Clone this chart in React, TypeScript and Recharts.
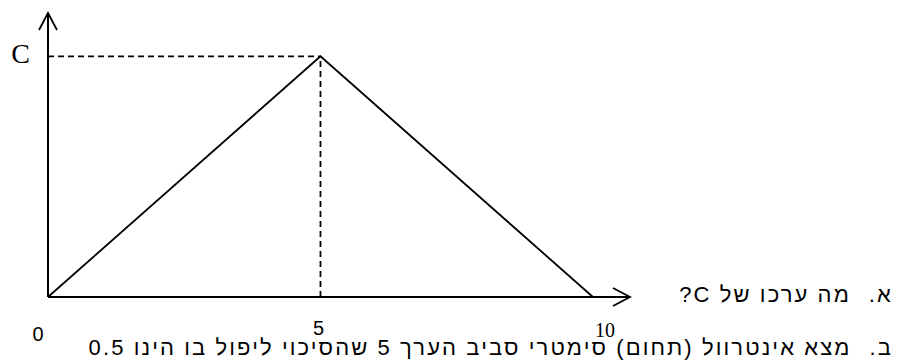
import { Line, LineChart, ReferenceLine, XAxis, YAxis } from 'recharts';

// triangular density on [0, 10], peak C at 5
const densityX = [0, 5, 10];
const densityY = [0, 0.2, 0];
const peakX = 5;
const peakC = 0.2;

const xTicks = [0, 5, 10];
const xTickLabels = ['0', '5', '10'];
const yTicks = [0.2];
const yTickLabels = ['C'];

// where the axis arrows end, in data units
const axisEndX = 10.68;
const axisEndY = 0.236;

const questionLabels = ['א.', 'ב.'];
const questionTexts = [
  'מה ערכו של C?',
  'מצא אינטרוול (תחום) סימטרי סביב הערך 5 שהסיכוי ליפול בו הינו 0.5',
];

const data = densityX.map((x, i) => ({ x, y: densityY[i] }));

const sans = '"Liberation Sans", Arial, sans-serif';
const serif = '"Liberation Serif", "Times New Roman", serif';

const xTickStyle: Record<string, { dx: number; dy: number; font: string }> = {
  '0': { dx: -10, dy: 44, font: sans },
  '5': { dx: -2, dy: 38, font: sans },
  '10': { dx: 12, dy: 40, font: serif },
};

function XTick({ x, y, index }: any) {
  const label = xTickLabels[index];
  const s = xTickStyle[label];
  return (
    <text x={x + s.dx} y={y + s.dy} textAnchor="middle" fontFamily={s.font} fontSize={20} fill="#000">
      {label}
    </text>
  );
}

function YTick({ x, y, index }: any) {
  return (
    <text x={x - 18} y={y + 7} textAnchor="end" fontFamily={serif} fontSize={28} fill="#000">
      {yTickLabels[index]}
    </text>
  );
}

export default function App() {
  return (
    <div style={{ position: 'absolute', left: 0, top: 0, width: 902, height: 364, background: '#fff' }}>
      <svg width={0} height={0} style={{ position: 'absolute' }}>
        <defs>
          <marker
            id="arrow"
            markerUnits="userSpaceOnUse"
            markerWidth={20}
            markerHeight={20}
            refX={17}
            refY={9}
            orient="auto-start-reverse"
            viewBox="0 0 20 20"
            overflow="visible"
          >
            <path d="M0,0 L17,9 L0,18" fill="none" stroke="#000" strokeWidth={1.8} />
          </marker>
        </defs>
      </svg>
      <LineChart width={902} height={364} data={data} margin={{ top: 13, right: 272, bottom: 37, left: 0 }}>
        <XAxis
          dataKey="x"
          type="number"
          domain={[0, axisEndX]}
          ticks={xTicks}
          height={30}
          tickSize={0}
          tickMargin={0}
          tickLine={false}
          tick={<XTick />}
          axisLine={{ stroke: '#000', strokeWidth: 2, markerEnd: 'url(#arrow)' }}
        />
        <YAxis
          type="number"
          domain={[0, axisEndY]}
          ticks={yTicks}
          width={48}
          tickSize={0}
          tickMargin={0}
          tickLine={false}
          tick={<YTick />}
          axisLine={{ stroke: '#000', strokeWidth: 2, markerStart: 'url(#arrow)' }}
        />
        <ReferenceLine
          segment={[{ x: 0, y: peakC }, { x: peakX, y: peakC }]}
          stroke="#000"
          strokeWidth={1.8}
          strokeDasharray="6 4"
        />
        <ReferenceLine
          segment={[{ x: peakX, y: 0 }, { x: peakX, y: peakC }]}
          stroke="#000"
          strokeWidth={1.8}
          strokeDasharray="6 4"
        />
        <Line
          dataKey="y"
          type="linear"
          stroke="#000"
          strokeWidth={1.8}
          dot={false}
          activeDot={false}
          isAnimationActive={false}
        />
      </LineChart>
      {questionTexts.map((q, i) => (
        <div
          key={i}
          dir="rtl"
          style={{
            position: 'absolute',
            top: 282 + i * 53,
            right: 9,
            fontFamily: sans,
            fontSize: 22,
            lineHeight: '26px',
            letterSpacing: 2.1,
            color: '#000',
            whiteSpace: 'nowrap',
            display: 'flex',
            gap: 18,
          }}
        >
          <span>{questionLabels[i]}</span>
          <span>{q}</span>
        </div>
      ))}
    </div>
  );
}
